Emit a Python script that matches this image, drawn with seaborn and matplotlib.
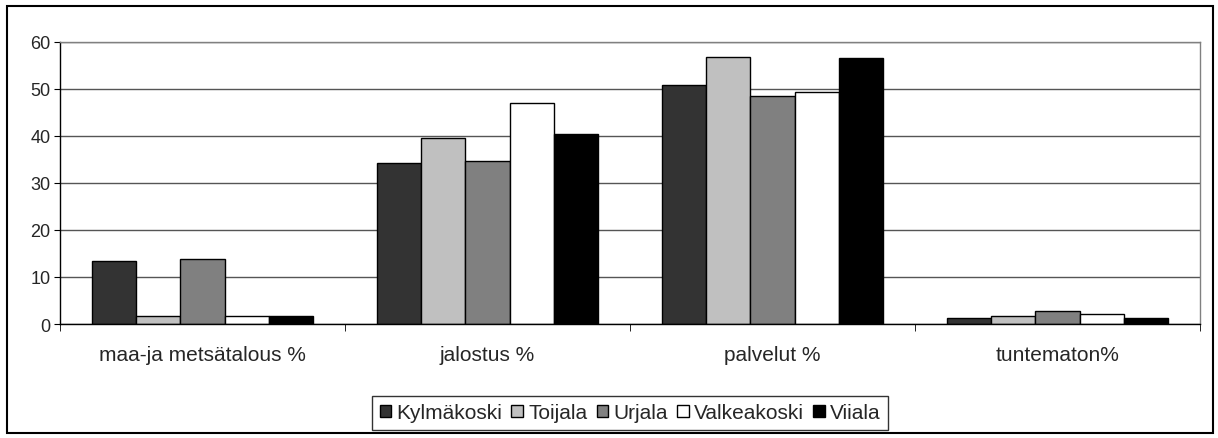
import numpy as np
import pandas as pd
import matplotlib
matplotlib.use("Agg")
import matplotlib.pyplot as plt
from matplotlib.patches import Rectangle
import seaborn as sns

categories = ["maa-ja metsätalous %", "jalostus %", "palvelut %", "tuntematon%"]
towns = ["Kylmäkoski", "Toijala", "Urjala", "Valkeakoski", "Viiala"]
kylmakoski = [13.5, 34.3, 50.8, 1.3]
toijala = [1.6, 39.6, 56.8, 1.6]
urjala = [13.9, 34.6, 48.6, 2.7]
valkeakoski = [1.6, 47.1, 49.3, 2.1]
viiala = [1.7, 40.4, 56.6, 1.3]
colors = ["#333333", "#c0c0c0", "#808080", "#ffffff", "#000000"]

rows = []
for town, vals in zip(towns, [kylmakoski, toijala, urjala, valkeakoski, viiala]):
    for cat, v in zip(categories, vals):
        rows.append({"category": cat, "town": town, "value": v})
df = pd.DataFrame(rows)

sns.set_style("white")
plt.rcParams['font.family'] = ['Liberation Sans', 'DejaVu Sans']

W, H = 1218, 439
fig = plt.figure(figsize=(W / 100, H / 100), dpi=100)
ax = fig.add_axes([60 / W, 1 - 325 / H, (1200 - 60) / W, (325 - 43) / H])

sns.barplot(data=df, x="category", y="value", hue="town", order=categories,
            hue_order=towns, palette=colors, width=0.776, gap=0,
            edgecolor="black", linewidth=1, saturation=1, ax=ax, legend=True)

ax.set_ylim(0, 60)
ax.set_xlim(-0.5, 3.5)
ax.set_yticks(range(0, 61, 10))
ax.yaxis.grid(True, color="#555555", linewidth=1)
ax.set_axisbelow(True)
ax.set_xlabel("")
ax.set_ylabel("")
ax.tick_params(axis="y", labelsize=13, length=4, direction="out", left=True, color="black", pad=3)
# category ticks sit between groups
ax.set_xticks(np.arange(4))
ax.set_xticklabels(categories, fontsize=15)
ax.tick_params(axis="x", length=0, pad=15)
ax.set_xticks(np.arange(-0.5, 4, 1), minor=True)
ax.tick_params(axis="x", which="minor", length=5, bottom=True, direction="out", color="black")
for s in ["top", "right"]:
    ax.spines[s].set_color("#808080")
    ax.spines[s].set_linewidth(1)
for s in ["left", "bottom"]:
    ax.spines[s].set_color("black")
    ax.spines[s].set_linewidth(1)

handles, labels = ax.get_legend_handles_labels()
ax.get_legend().remove()
leg = fig.legend(handles, labels, loc="center", bbox_to_anchor=(630 / W, 1 - 414 / H),
                 ncol=5, fontsize=15, frameon=True, fancybox=False, edgecolor="black",
                 handlelength=0.55, handleheight=0.55, handletextpad=0.25, columnspacing=0.45,
                 borderpad=0.35, borderaxespad=0)
leg.get_frame().set_linewidth(1)

fig.patches.append(Rectangle((7 / W, 1 - 434 / H), (1213 - 7) / W, (434 - 7) / H,
                             transform=fig.transFigure, fill=False, edgecolor="black",
                             linewidth=1.5))

fig.savefig("out.png", dpi=100)
